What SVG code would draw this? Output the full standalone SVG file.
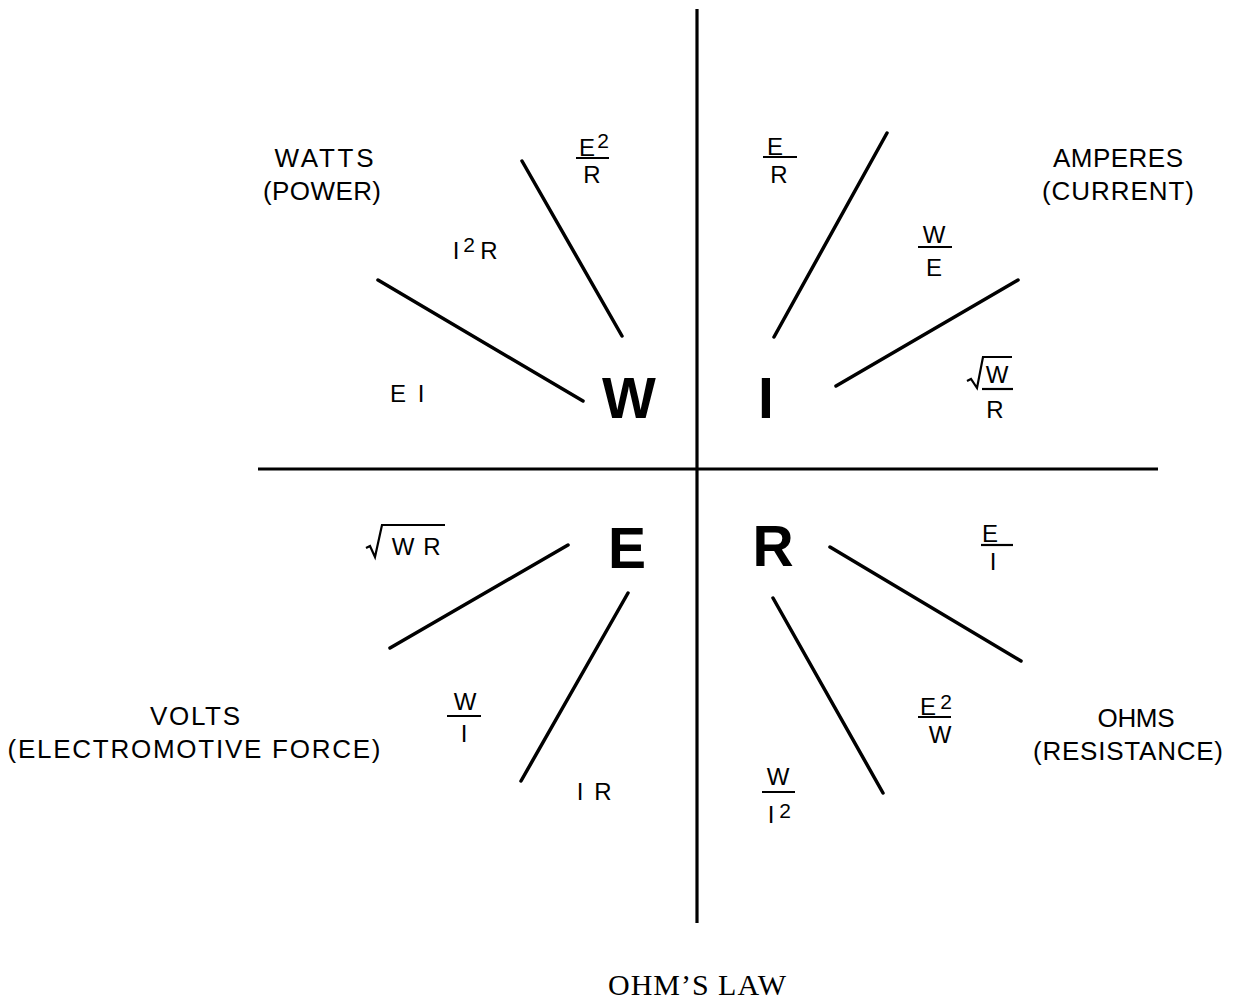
<svg xmlns="http://www.w3.org/2000/svg" width="1236" height="1002" viewBox="0 0 1236 1002">
<style>
.ax{stroke:#000;stroke-width:3.2;fill:none;stroke-linecap:butt}
.sp{stroke:#000;stroke-width:3.5;fill:none;stroke-linecap:round}
.bar{stroke:#000;stroke-width:2.2;fill:none}
.rad{stroke:#000;stroke-width:2.2;fill:none;stroke-linejoin:miter}
.big{font-family:"Liberation Sans",Arial,sans-serif;font-weight:bold;font-size:57px;fill:#000;text-anchor:middle}
.lab{font-family:"Liberation Sans",Arial,sans-serif;font-size:26px;fill:#000;text-anchor:middle}
.f{font-family:"Liberation Sans",Arial,sans-serif;font-size:24px;fill:#000;text-anchor:middle}
.s{font-family:"Liberation Sans",Arial,sans-serif;font-size:21px;fill:#000;text-anchor:middle}
.title{font-family:"Liberation Serif","Times New Roman",serif;font-size:30px;fill:#000;text-anchor:middle}
</style>
<rect width="1236" height="1002" fill="#fff"/>
<g id="connectors">
<line class="ax" x1="697" y1="9" x2="697" y2="923"/>
<line class="ax" x1="258" y1="469" x2="1158" y2="469"/>
<line class="sp" x1="378" y1="280" x2="583" y2="401"/>
<line class="sp" x1="522" y1="161" x2="622" y2="336"/>
<line class="sp" x1="887" y1="133" x2="774" y2="337"/>
<line class="sp" x1="1018" y1="280" x2="836" y2="386"/>
<line class="sp" x1="568" y1="545" x2="390" y2="648"/>
<line class="sp" x1="628" y1="593" x2="521" y2="781"/>
<line class="sp" x1="830" y1="547" x2="1021" y2="661"/>
<line class="sp" x1="773" y1="598" x2="883" y2="793"/>
</g>
<g id="node-W"><text class="big" x="629" y="418">W</text></g>
<g id="node-I"><text class="big" x="766" y="418">I</text></g>
<g id="node-E"><text class="big" x="627" y="568">E</text></g>
<g id="node-R"><text class="big" x="773" y="566">R</text></g>
<g id="label-watts">
<text class="lab" x="324" y="167" textLength="99" lengthAdjust="spacing">WATTS</text>
<text class="lab" x="322" y="200" textLength="118" lengthAdjust="spacing">(POWER)</text>
</g>
<g id="label-amperes">
<text class="lab" x="1118" y="167" textLength="130" lengthAdjust="spacing">AMPERES</text>
<text class="lab" x="1118" y="200" textLength="152" lengthAdjust="spacing">(CURRENT)</text>
</g>
<g id="label-volts">
<text class="lab" x="195" y="725" textLength="90" lengthAdjust="spacing">VOLTS</text>
<text class="lab" x="194" y="758" textLength="373" lengthAdjust="spacing">(ELECTROMOTIVE FORCE)</text>
</g>
<g id="label-ohms">
<text class="lab" x="1136" y="727" textLength="77" lengthAdjust="spacing">OHMS</text>
<text class="lab" x="1128" y="760" textLength="190" lengthAdjust="spacing">(RESISTANCE)</text>
</g>
<g id="f-E2R">
<text class="f" x="587" y="156">E</text><text class="s" x="603" y="148">2</text>
<line class="bar" x1="576" y1="158" x2="609" y2="158"/>
<text class="f" x="592" y="183">R</text>
</g>
<g id="f-I2R">
<text class="f" x="456" y="259">I</text><text class="s" x="469" y="252">2</text><text class="f" x="489" y="259">R</text>
</g>
<g id="f-EI">
<text class="f" x="398" y="402">E</text><text class="f" x="421" y="402">I</text>
</g>
<g id="f-ER">
<text class="f" x="775" y="155">E</text>
<line class="bar" x1="763" y1="157" x2="797" y2="157"/>
<text class="f" x="779" y="183">R</text>
</g>
<g id="f-WE">
<text class="f" x="934" y="243">W</text>
<line class="bar" x1="918" y1="247" x2="952" y2="247"/>
<text class="f" x="934" y="276">E</text>
</g>
<g id="f-sqrtWR-frac">
<path class="rad" d="M967,381 L971,379 L977,388 L983,357 L1012,357"/>
<text class="f" x="997" y="383">W</text>
<line class="bar" x1="982" y1="389" x2="1013" y2="389"/>
<text class="f" x="995" y="418">R</text>
</g>
<g id="f-sqrtWR">
<path class="rad" d="M366,548 L370,546 L375,557 L382,525 L445,525"/>
<text class="f" x="403" y="555">W</text><text class="f" x="432" y="555">R</text>
</g>
<g id="f-WI">
<text class="f" x="465" y="710">W</text>
<line class="bar" x1="447" y1="716" x2="481" y2="716"/>
<text class="f" x="464" y="742">I</text>
</g>
<g id="f-IR">
<text class="f" x="580" y="800">I</text><text class="f" x="603" y="800">R</text>
</g>
<g id="f-EI2">
<text class="f" x="990" y="542">E</text>
<line class="bar" x1="981" y1="545" x2="1013" y2="545"/>
<text class="f" x="993" y="570">I</text>
</g>
<g id="f-E2W">
<text class="f" x="928" y="715">E</text><text class="s" x="946" y="709">2</text>
<line class="bar" x1="918" y1="717" x2="951" y2="717"/>
<text class="f" x="940" y="743">W</text>
</g>
<g id="f-WI2">
<text class="f" x="778" y="785">W</text>
<line class="bar" x1="762" y1="792" x2="795" y2="792"/>
<text class="f" x="771" y="823">I</text><text class="s" x="785" y="818">2</text>
</g>
<g id="title"><text class="title" x="697" y="995" textLength="178" lengthAdjust="spacing">OHM’S LAW</text></g>
</svg>
